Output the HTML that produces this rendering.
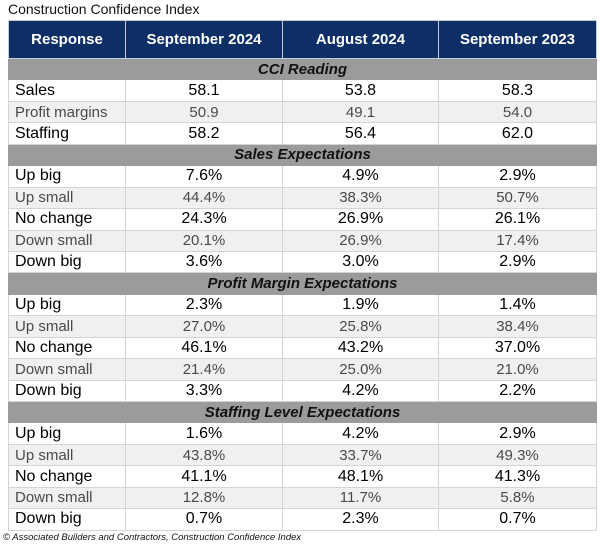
<!DOCTYPE html>
<html><head><meta charset="utf-8"><style>
body{margin:0;width:600px;height:544px;background:#fff;font-family:"Liberation Sans",Arial,sans-serif;position:relative;overflow:hidden}
.t{position:absolute;left:8px;top:1px;font-size:14px;color:#111}
table{position:absolute;left:8px;top:20px;width:588px;border-collapse:collapse;table-layout:fixed}
td,th{padding:0;border:1px solid #d4d4d4;text-align:center;white-space:nowrap;overflow:hidden}
th{background:#0e2f66;color:#fff;font-weight:bold;font-size:15px;height:37px;border:1px solid #c8ccd6}
tr{height:21.45px}
td{font-size:16px;color:#000;background:#fff}
td:first-child{text-align:left;padding-left:6px}
tr.l td{background:#f0f0f0;color:#4a4a4a;font-size:15px}
tr.s td{background:#9b9b9d;color:#111;font-weight:bold;font-style:italic;font-size:15px;text-align:center;padding:0;border-color:#9b9b9d}
.f{position:absolute;left:3px;top:532px;font-size:9.5px;font-style:italic;color:#111}
</style></head><body>
<div class="t">Construction Confidence Index</div>
<table>
<colgroup><col style="width:117px"><col style="width:157px"><col style="width:156px"><col style="width:158px"></colgroup>
<tr><th>Response</th><th>September 2024</th><th>August 2024</th><th>September 2023</th></tr>
<tr class="s"><td colspan="4">CCI Reading</td></tr>
<tr><td>Sales</td><td>58.1</td><td>53.8</td><td>58.3</td></tr>
<tr class="l"><td>Profit margins</td><td>50.9</td><td>49.1</td><td>54.0</td></tr>
<tr><td>Staffing</td><td>58.2</td><td>56.4</td><td>62.0</td></tr>
<tr class="s"><td colspan="4">Sales Expectations</td></tr>
<tr><td>Up big</td><td>7.6%</td><td>4.9%</td><td>2.9%</td></tr>
<tr class="l"><td>Up small</td><td>44.4%</td><td>38.3%</td><td>50.7%</td></tr>
<tr><td>No change</td><td>24.3%</td><td>26.9%</td><td>26.1%</td></tr>
<tr class="l"><td>Down small</td><td>20.1%</td><td>26.9%</td><td>17.4%</td></tr>
<tr><td>Down big</td><td>3.6%</td><td>3.0%</td><td>2.9%</td></tr>
<tr class="s"><td colspan="4">Profit Margin Expectations</td></tr>
<tr><td>Up big</td><td>2.3%</td><td>1.9%</td><td>1.4%</td></tr>
<tr class="l"><td>Up small</td><td>27.0%</td><td>25.8%</td><td>38.4%</td></tr>
<tr><td>No change</td><td>46.1%</td><td>43.2%</td><td>37.0%</td></tr>
<tr class="l"><td>Down small</td><td>21.4%</td><td>25.0%</td><td>21.0%</td></tr>
<tr><td>Down big</td><td>3.3%</td><td>4.2%</td><td>2.2%</td></tr>
<tr class="s"><td colspan="4">Staffing Level Expectations</td></tr>
<tr><td>Up big</td><td>1.6%</td><td>4.2%</td><td>2.9%</td></tr>
<tr class="l"><td>Up small</td><td>43.8%</td><td>33.7%</td><td>49.3%</td></tr>
<tr><td>No change</td><td>41.1%</td><td>48.1%</td><td>41.3%</td></tr>
<tr class="l"><td>Down small</td><td>12.8%</td><td>11.7%</td><td>5.8%</td></tr>
<tr><td>Down big</td><td>0.7%</td><td>2.3%</td><td>0.7%</td></tr>
</table>
<div class="f">© Associated Builders and Contractors, Construction Confidence Index</div>
</body></html>
